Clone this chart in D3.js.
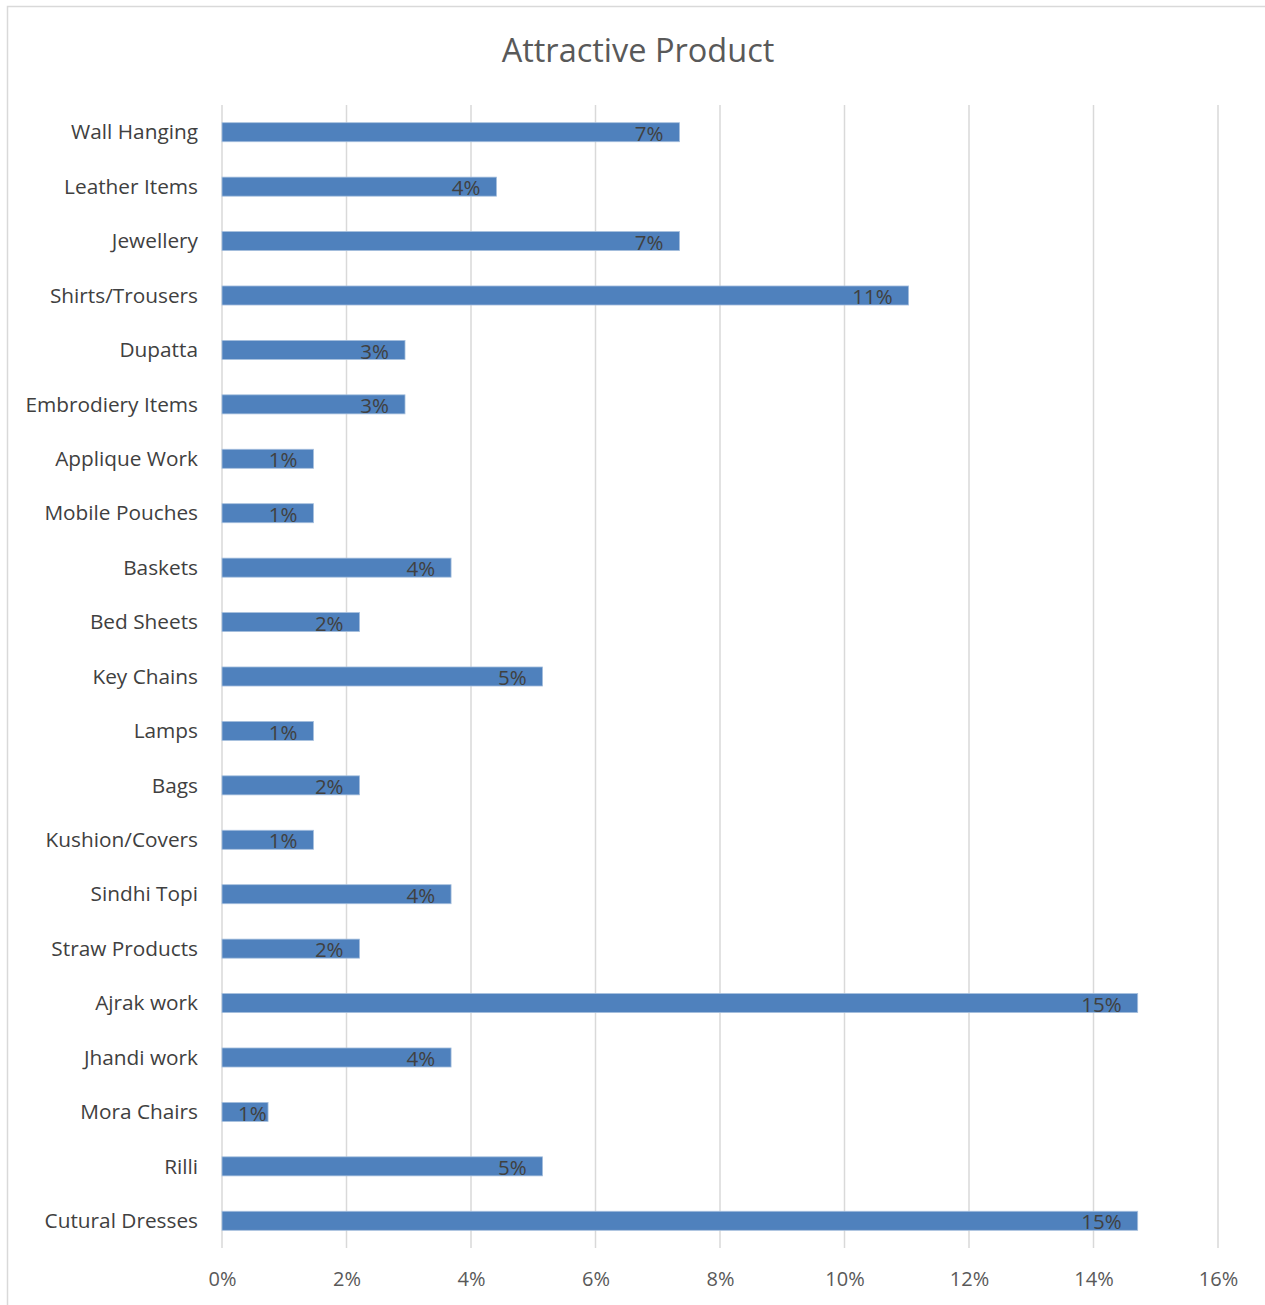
<!DOCTYPE html>
<html>
<head>
<meta charset="utf-8">
<script src="https://cdn.jsdelivr.net/npm/d3@7"></script>
<style>
  html, body { margin: 0; padding: 0; background: #fff; }
  svg { display: block; }
  text { font-family: "Open Sans", Lato, sans-serif; }
</style>
</head>
<body>
<svg id="chart" width="1265" height="1305"></svg>
<script>
const title = "Attractive Product";
const categories = [
  "Wall Hanging", "Leather Items", "Jewellery", "Shirts/Trousers", "Dupatta",
  "Embrodiery Items", "Applique Work", "Mobile Pouches", "Baskets", "Bed Sheets",
  "Key Chains", "Lamps", "Bags", "Kushion/Covers", "Sindhi Topi",
  "Straw Products", "Ajrak work", "Jhandi work", "Mora Chairs", "Rilli", "Cutural Dresses"
];
const values = [
  0.0735, 0.0441, 0.0735, 0.1103, 0.0294,
  0.0294, 0.0147, 0.0147, 0.0368, 0.0221,
  0.0515, 0.0147, 0.0221, 0.0147, 0.0368,
  0.0221, 0.1471, 0.0368, 0.0074, 0.0515, 0.1471
];
const tickValues = [0, 0.02, 0.04, 0.06, 0.08, 0.10, 0.12, 0.14, 0.16];

(function () {
const svg = d3.select("#chart");

// chart border
svg.append("rect")
  .attr("x", 7.5).attr("y", 6.5)
  .attr("width", 1300).attr("height", 1350)
  .attr("fill", "none").attr("stroke", "#d9d9d9").attr("stroke-width", 1.5);

const plotLeft = 222, plotRight = 1218, plotTop = 105, plotBottom = 1248;

const x = d3.scaleLinear().domain([0, 0.16]).range([plotLeft, plotRight]);
const y = d3.scaleBand().domain(categories).range([plotTop, plotBottom]).paddingInner(0.65).paddingOuter(0.325);

// title
svg.append("text")
  .attr("x", 638).attr("y", 62)
  .attr("text-anchor", "middle")
  .attr("font-size", 32.5)
  .attr("fill", "#595959")
  .text(title);

// gridlines
svg.append("g").selectAll("line")
  .data(tickValues)
  .join("line")
  .attr("x1", d => x(d)).attr("x2", d => x(d))
  .attr("y1", plotTop).attr("y2", plotBottom)
  .attr("stroke", "#d9d9d9").attr("stroke-width", 1.5);

// x axis tick labels
const xAxis = d3.axisBottom(x).tickValues(tickValues).tickFormat(d3.format(".0%")).tickSize(0).tickPadding(0);
const gx = svg.append("g").attr("transform", `translate(0,${plotBottom})`).call(xAxis);
gx.select(".domain").remove();
gx.selectAll("text")
  .attr("y", 38)
  .attr("dy", 0)
  .attr("font-size", 20)
  .attr("font-family", "\"Open Sans\", Lato, sans-serif")
  .attr("fill", "#595959");

// y axis category labels
const yAxis = d3.axisLeft(y).tickSize(0).tickPadding(0);
const gy = svg.append("g").attr("transform", `translate(${plotLeft},0)`).call(yAxis);
gy.select(".domain").remove();
gy.selectAll("text")
  .attr("x", -24)
  .attr("dy", "0.35em")
  .attr("font-size", 20.8)
  .attr("font-family", "\"Open Sans\", Lato, sans-serif")
  .attr("fill", "#404040");

// bars
svg.append("g").selectAll("rect")
  .data(categories)
  .join("rect")
  .attr("x", x(0))
  .attr("y", d => y(d))
  .attr("width", (d, i) => x(values[i]) - x(0))
  .attr("height", y.bandwidth())
  .attr("fill", "#4f81bd")
  .attr("stroke", "#a7c0de")
  .attr("stroke-width", 0.8);

// data labels (inside end; kept off the axis for very short bars)
svg.append("g").selectAll("text")
  .data(categories)
  .join("text")
  .attr("y", d => y(d) + y.bandwidth() / 2)
  .attr("dy", "0.42em")
  .attr("text-anchor", "end")
  .attr("font-size", 20.5)
  .attr("fill", "#404040")
  .text((d, i) => d3.format(".0%")(values[i]))
  .attr("x", function (d, i) {
    const w = this.getComputedTextLength();
    return Math.max(x(values[i]) - 16, x(0) + 16 + w);
  });
})();
</script>
</body>
</html>
